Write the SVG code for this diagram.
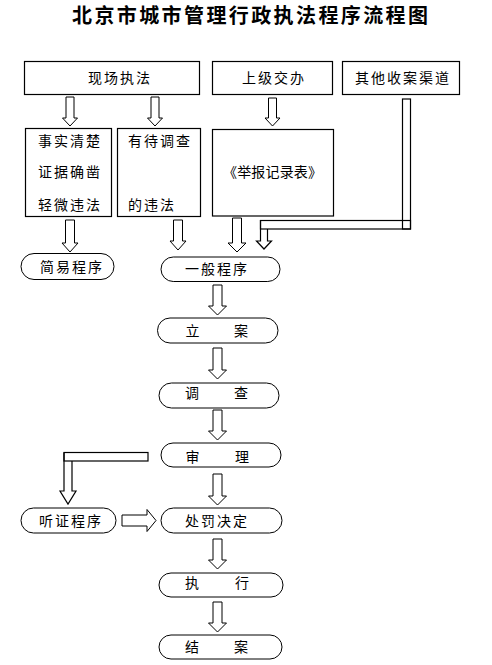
<svg xmlns="http://www.w3.org/2000/svg" width="492" height="665" viewBox="0 0 492 665">
<style>
.bx{fill:#fff;stroke:#000;stroke-width:1.2}
.ov{fill:#fff;stroke:#000;stroke-width:1}
.ar{fill:#fff;stroke:#000;stroke-width:1}
.ln{fill:none;stroke:#000;stroke-width:1.2}
text{font-family:"Noto Sans CJK SC","Noto Sans",sans-serif;font-size:14px;fill:#000}
.t4{letter-spacing:2px}
.title{font-size:20px;font-weight:bold}
</style>
<rect width="492" height="665" fill="#fff"/>
<text class="title" x="72" y="23" textLength="356" lengthAdjust="spacing">北京市城市管理行政执法程序流程图</text>

<g id="connectors">
<path class="ar" d="M66,97 H74 V118 H77.5 L70,126 L62.5,118 H66 Z"/>
<path class="ar" d="M151,97 H159 V118 H162.5 L155,126 L147.5,118 H151 Z"/>
<path class="ar" d="M268.5,98 H276.5 V118 H280 L272.5,126 L265,118 H268.5 Z"/>
<path class="ar" d="M65.5,220 H74.5 V243 H78 L70,252 L62,243 H65.5 Z"/>
<path class="ar" d="M173.5,220 H182.5 V241 H186 L178,250 L170,241 H173.5 Z"/>
<path class="ar" d="M232.5,218 H241.5 V243 H246 L237,252 L228,243 H232.5 Z"/>
<rect class="ln" x="402.5" y="99" width="8" height="130"/>
<rect class="ln" x="260.5" y="220.5" width="150" height="8.5"/>
<path class="ln" d="M260.5,220 V241 H256.5 L264,249 L271.5,241 H267.5 V229"/>
<path class="ar" d="M213,285 H222 V306 H226.5 L217.5,315 L208.5,306 H213 Z"/>
<path class="ar" d="M213,348 H222 V370 H226.5 L217.5,379 L208.5,370 H213 Z"/>
<path class="ar" d="M213,410 H222 V431 H226.5 L217.5,440 L208.5,431 H213 Z"/>
<path class="ar" d="M213,474 H222 V496 H226.5 L217.5,505 L208.5,496 H213 Z"/>
<path class="ar" d="M213,539 H222 V560 H226.5 L217.5,569 L208.5,560 H213 Z"/>
<path class="ar" d="M213,602 H222 V623 H226.5 L217.5,632 L208.5,623 H213 Z"/>
<rect class="ln" x="64" y="452.5" width="84" height="8.5"/>
<path class="ln" d="M64,452.5 V491 H60 L68,504 L76,491 H72 V461"/>
<path class="ar" d="M122,515 H147 V509.5 L156,520.5 L147,531.5 V526 H122 Z"/>
</g>

<g id="n-xianchang"><rect class="bx" x="24.5" y="61.5" width="175" height="33"/><text class="t4" x="88" y="83">现场执法</text></g>
<g id="n-shangji"><rect class="bx" x="212.5" y="61.5" width="120" height="33"/><text class="t4" x="242" y="83">上级交办</text></g>
<g id="n-qita"><rect class="bx" x="342.5" y="61.5" width="117" height="33"/><text class="t4" x="355" y="83">其他收案渠道</text></g>

<g id="n-shishi"><rect class="bx" x="25.5" y="128.5" width="86" height="88"/>
<text class="t4" x="38" y="146">事实清楚</text><text class="t4" x="38" y="177">证据确凿</text><text class="t4" x="38" y="210">轻微违法</text></g>
<g id="n-youdai"><rect class="bx" x="117.5" y="128.5" width="83" height="88"/>
<text class="t4" x="128" y="146">有待调查</text><text class="t4" x="128" y="210">的违法</text></g>
<g id="n-jubao"><rect class="bx" x="212.5" y="129.5" width="121" height="86.5"/>
<text x="223" y="177" textLength="99" lengthAdjust="spacing">《举报记录表》</text></g>

<g id="n-jianyi"><rect class="ov" x="21" y="253.5" width="93" height="26" rx="13"/><text class="t4" x="40" y="272">简易程序</text></g>
<g id="n-yiban"><rect class="ov" x="161" y="257" width="119" height="24.5" rx="12.25"/><text class="t4" x="185" y="274">一般程序</text></g>
<g id="n-lian"><rect class="ov" x="157.5" y="318" width="120.5" height="25" rx="12.5"/><text x="185.5" y="336">立</text><text x="234" y="336">案</text></g>
<g id="n-diaocha"><rect class="ov" x="159" y="383" width="120" height="25" rx="12.5"/><text x="185" y="398">调</text><text x="234" y="398">查</text></g>
<g id="n-shenli"><rect class="ov" x="161" y="443" width="120" height="24" rx="12"/><text x="185.5" y="462">审</text><text x="235" y="462">理</text></g>
<g id="n-tingzheng"><rect class="ov" x="21" y="508" width="95" height="25" rx="12.5"/><text class="t4" x="39" y="526">听证程序</text></g>
<g id="n-chufa"><rect class="ov" x="161" y="508" width="121" height="25" rx="12.5"/><text class="t4" x="185" y="526">处罚决定</text></g>
<g id="n-zhixing"><rect class="ov" x="159" y="573" width="124" height="24" rx="12"/><text x="185" y="588">执</text><text x="235" y="588">行</text></g>
<g id="n-jiean"><rect class="ov" x="159" y="635" width="123" height="24" rx="12"/><text x="185" y="652">结</text><text x="234" y="652">案</text></g>
</svg>
